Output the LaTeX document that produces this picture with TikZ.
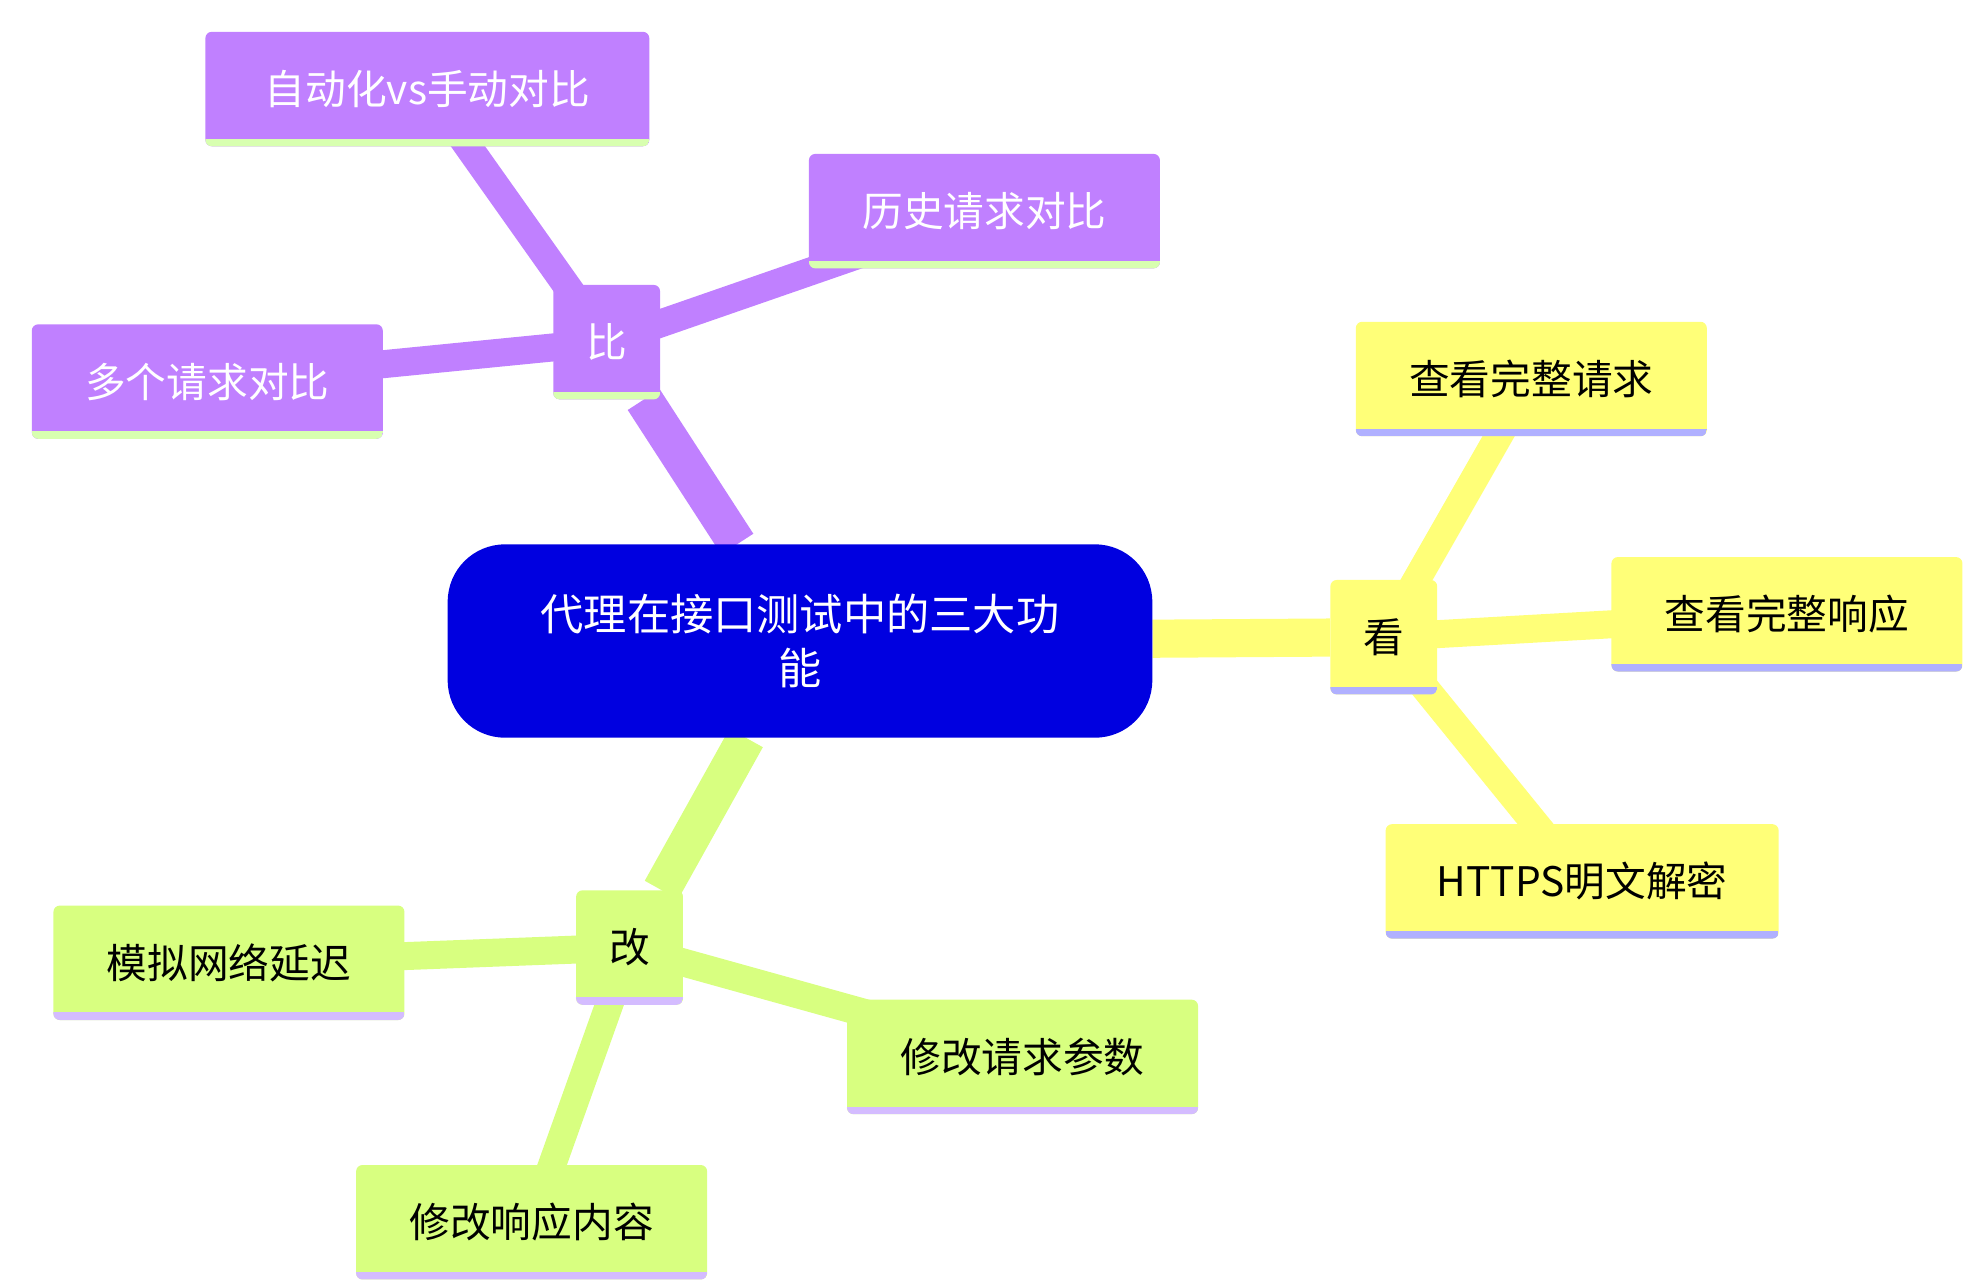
\documentclass[tikz,border=0pt]{standalone}
\usepackage{fontspec}
\setmainfont{Noto Sans CJK SC}
\usetikzlibrary{positioning, backgrounds}
\definecolor{rootblue}{RGB}{0,0,224}
\definecolor{kanfill}{RGB}{255,255,120}
\definecolor{kanline}{RGB}{176,176,255}
\definecolor{bifill}{RGB}{192,128,255}
\definecolor{biline}{RGB}{216,255,176}
\definecolor{gaifill}{RGB}{216,255,128}
\definecolor{gailine}{RGB}{212,188,255}
\tikzset{
  base/.style={rounded corners=5pt, inner sep=0pt, minimum height=90pt, font=\fontsize{32}{38}\selectfont},
  underline/.style={path picture={\draw[line width=12pt, #1] (path picture bounding box.south west) -- (path picture bounding box.south east);}},
  kan/.style={base, fill=kanfill, underline=kanline, text=black},
  bi/.style={base, fill=bifill, underline=biline, text=white},
  gai/.style={base, fill=gaifill, underline=gailine, text=black},
  branch/.style={minimum width=84pt},
  leaf/.style={minimum width=276pt},
  trunk/.style={line width=30pt},
  twig/.style={line width=22pt}
}
\begin{document}
\begin{tikzpicture}[x=1pt, y=-1pt]
  \useasboundingbox (0,0) rectangle (1545,1012);

  % root
  \node[fill=rootblue, text=white, rounded corners=45pt, minimum width=554pt, minimum height=152pt,
        align=center, font=\fontsize{34}{42}\selectfont] (root) at (629,504) {代理在接口测试中的三大功\\能};

  % kan
  \node[kan, branch] (kan) at (1088,501) {看};
  \node[kan, leaf] (kan1) at (1204,298) {查看完整请求};
  \node[kan, leaf] (kan2) at (1405,483) {查看完整响应};
  \node[kan, minimum width=309pt] (kan3) at (1244,693) {HTTPS明文解密};

  % bi
  \node[bi, branch] (bi) at (477,269) {比};
  \node[bi, minimum width=349pt] (bi1) at (336,70) {自动化vs手动对比};
  \node[bi, leaf] (bi2) at (774,166) {历史请求对比};
  \node[bi, leaf] (bi3) at (163,300) {多个请求对比};

  % gai
  \node[gai, branch] (gai) at (495,745) {改};
  \node[gai, leaf] (gai1) at (180,757) {模拟网络延迟};
  \node[gai, leaf] (gai2) at (804,831) {修改请求参数};
  \node[gai, leaf] (gai3) at (418,961) {修改响应内容};

  % connectors
  \begin{scope}[on background layer]
    \draw[trunk, kanfill] (root) -- (kan);
    \draw[trunk, bifill] (root) -- (bi);
    \draw[trunk, gaifill] (root) -- (gai);
    \draw[twig, kanfill] (kan.center) -- (kan1.center);
    \draw[twig, kanfill] (kan.center) -- (kan2.center);
    \draw[twig, kanfill] (kan.center) -- (kan3.center);
    \draw[twig, bifill] (bi.center) -- (bi1.center);
    \draw[twig, bifill] (bi.center) -- (bi2.center);
    \draw[twig, bifill] (bi.center) -- (bi3.center);
    \draw[twig, gaifill] (gai.center) -- (gai1.center);
    \draw[twig, gaifill] (gai.center) -- (gai2.center);
    \draw[twig, gaifill] (gai.center) -- (gai3.center);
  \end{scope}
\end{tikzpicture}
\end{document}
